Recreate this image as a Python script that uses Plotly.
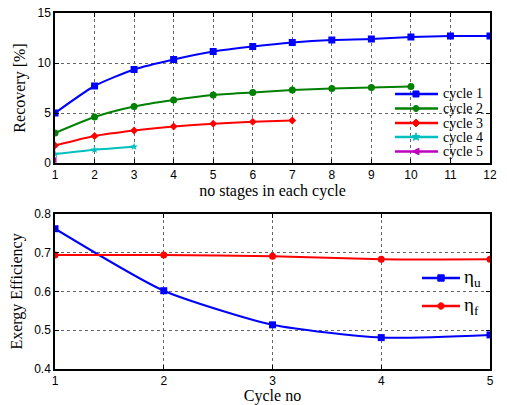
import math
import plotly.graph_objects as go

stages = list(range(1, 13))
cycle1 = [5.0, 7.7, 9.35, 10.35, 11.15, 11.65, 12.05, 12.3, 12.4, 12.6, 12.7, 12.7]
cycle2 = [3.0, 4.6, 5.65, 6.3, 6.8, 7.05, 7.3, 7.45, 7.55, 7.65]
cycle3 = [1.75, 2.7, 3.25, 3.65, 3.93, 4.12, 4.25]
cycle4 = [0.9, 1.33, 1.63]
cycle5 = [0.3]
cycle_names = ["cycle 1", "cycle 2", "cycle 3", "cycle 4", "cycle 5"]

cycles = [1, 2, 3, 4, 5]
eta_u = [0.762, 0.602, 0.514, 0.481, 0.488]
eta_f = [0.694, 0.694, 0.691, 0.683, 0.683]
eta_names = ["η<sub>u</sub>", "η<sub>f</sub>"]

W, H = 507, 405
colors = ["#0000FF", "#008000", "#FF0000", "#00BFBF", "#BF00BF"]
symbols = ["square", "circle", "diamond", "star", "triangle-left"]
sizes = [7, 7, 6, 6, 6]
eta_colors = ["#0000FF", "#FF0000"]
eta_symbols = ["square", "circle"]

fig = go.Figure()
for name, vals, col, sym, sz in zip(cycle_names, [cycle1, cycle2, cycle3, cycle4, cycle5], colors, symbols, sizes):
    fig.add_trace(go.Scatter(
        x=stages[:len(vals)], y=vals, name=name, mode="lines+markers", showlegend=False,
        line=dict(color=col, width=2, shape="spline", smoothing=0.6),
        marker=dict(symbol=sym, size=sz, color=col),
        xaxis="x", yaxis="y"))

for name, vals, col, sym in zip(eta_names, [eta_u, eta_f], eta_colors, eta_symbols):
    fig.add_trace(go.Scatter(x=cycles, y=vals, name=name, mode="lines+markers", showlegend=False,
                             line=dict(color=col, width=2, shape="spline", smoothing=0.6),
                             marker=dict(symbol=sym, size=7, color=col),
                             xaxis="x2", yaxis="y2"))

# manual legends (pixel helpers -> paper coords)
def px(x):
    return x / W

def py(y):
    return 1 - y / H

def marker_path(sym, cx, cy, r):
    if sym == "square":
        pts = [(cx - r, cy - r), (cx + r, cy - r), (cx + r, cy + r), (cx - r, cy + r)]
    elif sym == "diamond":
        pts = [(cx, cy - r * 1.3), (cx + r * 1.3, cy), (cx, cy + r * 1.3), (cx - r * 1.3, cy)]
    elif sym == "triangle-left":
        pts = [(cx - r * 1.2, cy), (cx + r, cy - r * 1.1), (cx + r, cy + r * 1.1)]
    elif sym == "star":
        pts = []
        for i in range(10):
            a = -math.pi / 2 + i * math.pi / 5
            rr = r * 1.4 if i % 2 == 0 else r * 0.6
            pts.append((cx + rr * math.cos(a), cy + rr * math.sin(a)))
    else:
        pts = [(cx + r * math.cos(2 * math.pi * i / 16), cy + r * math.sin(2 * math.pi * i / 16)) for i in range(16)]
    return "M " + " L ".join(f"{px(a):.5f},{py(b):.5f}" for a, b in pts) + " Z"

shapes = []
annotations = []
serif = "Liberation Serif, Times New Roman"

def add_legend(names, cols, syms, ys, x0, x1, xm, xt, fsize, r):
    for name, col, sym, yy in zip(names, cols, syms, ys):
        shapes.append(dict(type="line", xref="paper", yref="paper", x0=px(x0), x1=px(x1), y0=py(yy), y1=py(yy),
                           line=dict(color=col, width=2.5)))
        shapes.append(dict(type="path", xref="paper", yref="paper", path=marker_path(sym, xm, yy, r),
                           fillcolor=col, line=dict(color=col, width=1)))
        annotations.append(dict(xref="paper", yref="paper", x=px(xt), y=py(yy), xanchor="left", yanchor="middle",
                                text=name, showarrow=False,
                                font=dict(family=serif, size=fsize, color="black")))

add_legend(cycle_names, colors, symbols, [94, 108.5, 123, 137, 151.5], 395, 438, 416, 441, 14, 3)
add_legend(eta_names, eta_colors, eta_symbols, [278, 306], 422, 460, 441, 462, 19, 3.2)

tickfont = dict(family="Liberation Sans, Arial", size=12, color="black")
titlefont = dict(family=serif, size=16, color="black")
ax_common = dict(showline=True, linecolor="black", linewidth=1.5, mirror="allticks",
                 ticks="inside", ticklen=4, tickcolor="black", automargin=False,
                 showgrid=True, gridcolor="#666666", griddash="dot", gridwidth=1,
                 zeroline=False, tickfont=tickfont)

fig.update_layout(
    width=W, height=H, margin=dict(l=0, r=0, t=0, b=0),
    paper_bgcolor="white", plot_bgcolor="white", showlegend=False,
    shapes=shapes, annotations=annotations,
    xaxis=dict(domain=[55/W, 490/W], range=[1, 12], dtick=1, anchor="y",
               title=dict(text="no stages in each cycle", font=titlefont, standoff=2), **ax_common),
    yaxis=dict(domain=[1-163/H, 1-13/H], range=[0, 15], dtick=5, anchor="x",
               title=dict(text="Recovery [%]", font=titlefont, standoff=8), **ax_common),
    xaxis2=dict(domain=[55/W, 490/W], range=[1, 5], dtick=1, anchor="y2",
                title=dict(text="Cycle no", font=titlefont, standoff=2), **ax_common),
    yaxis2=dict(domain=[1-369/H, 1-214/H], range=[0.4, 0.8], dtick=0.1, tickformat=".1f", anchor="x2",
                title=dict(text="Exergy Efficiency", font=titlefont, standoff=8), **ax_common),
)
fig.write_html("out.html", config={"displayModeBar": False},
               post_script="document.body.style.margin='0';document.body.style.overflow='hidden';")
